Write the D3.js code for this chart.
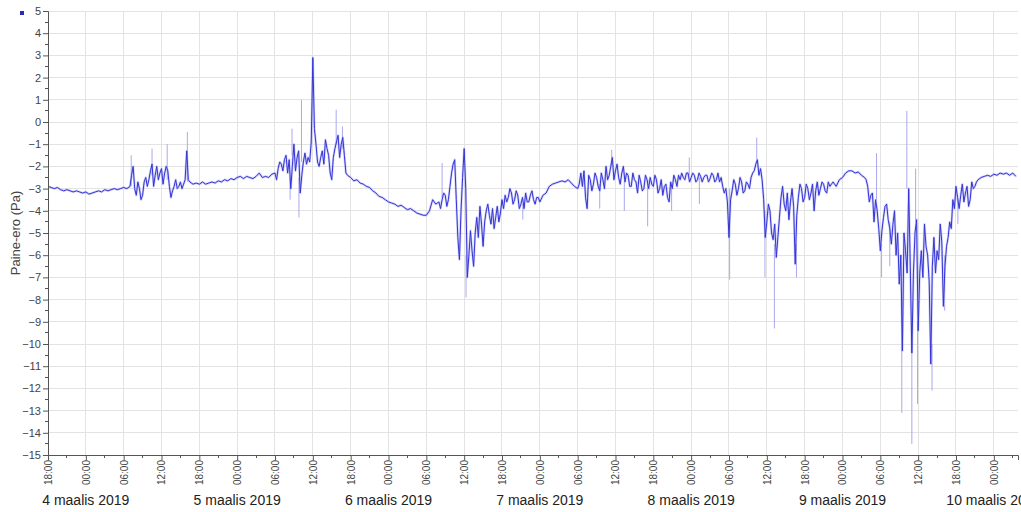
<!DOCTYPE html>
<html>
<head>
<meta charset="utf-8">
<script src="https://cdn.jsdelivr.net/npm/d3@7"></script>
<style>
  html, body { margin: 0; padding: 0; background: #fff; }
  svg { display: block; font-family: "Liberation Sans", Arial, sans-serif; }
</style>
</head>
<body>
<svg id="chart" width="1021" height="512"></svg>
<script>
// ---------------- DATA ----------------
const seriesName = "Paine-ero (Pa)";
const sampleStart = new Date(2019, 2, 3, 18, 0);   // 3 March 2019 18:00
const sampleStepMinutes = 30;
const values = [
  -2.9, -2.95, -3.0, -2.95, -3.05, -3.1, -3.05, -3.1, -3.15, -3.1,
  -3.15, -3.2, -3.15, -3.25, -3.2, -3.15, -3.1, -3.15, -3.05, -3.1,
  -3.05, -3.0, -3.05, -3.0, -2.95, -3.0, -2.9, -2.0, -3.3, -3.0,
  -3.3, -2.5, -2.6, -1.9, -2.4, -2.6, -2.1, -2.3, -2.2, -3.4,
  -2.9, -3.0, -2.7, -2.8, -1.3, -2.7, -2.8, -2.75, -2.8, -2.7,
  -2.8, -2.75, -2.7, -2.75, -2.65, -2.7, -2.6, -2.65, -2.55, -2.6,
  -2.5, -2.45, -2.55, -2.45, -2.5, -2.55, -2.45, -2.3, -2.5, -2.45,
  -2.5, -2.35, -2.3, -2.1, -1.9, -1.7, -2.3, -3.0, -1.0, -1.6,
  -3.2, -1.8, -1.9, -1.8, 2.9, -1.0, -2.0, -1.3, -0.8, -1.5,
  -2.6, -1.2, -0.6, -1.0, -1.5, -2.4, -2.5, -2.65, -2.6, -2.75,
  -2.8, -2.9, -2.95, -3.1, -3.2, -3.35, -3.4, -3.5, -3.6, -3.65,
  -3.7, -3.8, -3.75, -3.85, -3.95, -3.9, -4.0, -4.1, -4.15, -4.2,
  -4.2, -4.0, -3.5, -3.7, -3.6, -3.5, -3.3, -3.5, -2.3, -1.7,
  -5.2, -4.0, -1.2, -7.0, -4.9, -6.5, -4.3, -3.8, -5.6, -4.0,
  -4.2, -3.9, -4.3, -4.5, -3.5, -3.3, -3.4, -3.2, -3.5, -3.3,
  -3.7, -3.9, -3.6, -3.3, -3.5, -3.4, -3.6, -3.3, -3.2, -2.9,
  -2.8, -2.75, -2.7, -2.65, -2.7, -2.6, -2.75, -2.9, -3.0, -2.3,
  -2.2, -3.9, -2.6, -2.8, -2.5, -3.1, -2.6, -2.0, -2.4, -1.6,
  -2.2, -2.5, -2.3, -2.7, -2.4, -2.9, -2.6, -3.2, -2.7, -3.0,
  -2.6, -2.5, -2.9, -2.6, -3.0, -3.3, -2.8, -3.6, -3.0, -2.6,
  -2.4, -2.3, -2.6, -2.3, -2.5, -2.4, -2.6, -2.45, -2.5, -2.4,
  -2.55, -2.4, -2.6, -2.7, -2.9, -3.0, -5.2, -3.1, -2.8, -3.0,
  -2.7, -3.1, -2.8, -2.5, -2.2, -1.7, -2.1, -3.5, -4.5, -4.0,
  -5.3, -6.1, -4.3, -2.9, -4.0, -4.4, -3.0, -6.4, -3.4, -3.0,
  -3.4, -3.0, -3.2, -4.0, -2.7, -3.0, -2.8, -3.2, -2.9, -2.7,
  -2.9, -2.6, -2.5, -2.3, -2.2, -2.2, -2.3, -2.25, -2.4, -2.5,
  -2.9, -3.3, -4.5, -4.0, -5.8, -4.3, -3.7, -4.8, -4.6, -6.0,
  -7.3, -10.3, -5.8, -3.0, -10.4, -5.0, -9.4, -5.8, -4.6, -6.0,
  -10.9, -5.2, -5.8, -4.6, -8.3, -5.6, -4.5, -3.5, -2.9, -3.9,
  -2.8, -3.2, -3.8, -2.7, -2.9, -2.6, -2.5, -2.45, -2.4, -2.45,
  -2.35, -2.4, -2.3, -2.35, -2.3, -2.4, -2.3, -2.45
];
// extra in-between readings in the turbulent periods: [hours after sampleStart, value]
const detailA = [[13.25,-2.4],[13.75,-3.0],[14.25,-2.7],[14.75,-3.5],[15.25,-2.7],[15.75,-2.9],[16.25,-2.2],[16.75,-2.9],[17.25,-2.0],[17.75,-2.3],[18.25,-2.8],[18.75,-2.0],[19.25,-2.9],[19.75,-3.1],[20.25,-2.6],[20.75,-2.9],[21.25,-3.0],[21.75,-2.6],[22.25,-2.6]];
const detailB = [[36.25,-2.6],[36.75,-1.8],[37.25,-2.2],[37.75,-1.5],[38.25,-1.7],[38.75,-2.0],[39.25,-2.2],[39.75,-1.3],[40.25,-2.4],[40.75,-1.4],[41.25,-1.6],[41.75,-0.9],[42.25,-0.3],[42.75,-1.8],[43.25,-1.6],[43.75,-1.9],[44.25,-1.2],[44.75,-2.3],[45.25,-1.6],[45.75,-0.9],[46.25,-1.6],[46.75,-0.7],[47.25,-2.3]];
const detailC = [[62.25,-3.9],[62.75,-3.2],[63.25,-3.8],[63.75,-2.9],[64.25,-1.9],[64.75,-3.5],[65.25,-6.2],[65.75,-2.5],[66.25,-3.0],[66.75,-6.0],[67.25,-5.8],[67.75,-5.0],[68.25,-5.2],[68.75,-4.6],[69.25,-4.5],[69.75,-3.7],[70.25,-4.6],[70.75,-4.8],[71.25,-3.8],[71.75,-4.1],[72.25,-3.9],[72.75,-3.6],[73.25,-3.0],[73.75,-3.7],[74.25,-3.1],[74.75,-3.9],[75.25,-3.4],[75.75,-3.2],[76.25,-3.6],[76.75,-3.1],[77.25,-3.7],[77.75,-3.4]];
const detailD = [[84.25,-2.8],[84.75,-2.9],[85.25,-3.4],[85.75,-2.4],[86.25,-3.1],[86.75,-2.3],[87.25,-2.9],[87.75,-2.3],[88.25,-3.0],[88.75,-2.6],[89.25,-2.0],[89.75,-2.6],[90.25,-1.9],[90.75,-2.8],[91.25,-2.0],[91.75,-2.3],[92.25,-2.9],[92.75,-2.3],[93.25,-2.7],[93.75,-2.4],[94.25,-3.1],[94.75,-2.4],[95.25,-3.0],[95.75,-2.8],[96.25,-2.4],[96.75,-3.2],[97.25,-2.6],[97.75,-2.9],[98.25,-3.4],[98.75,-2.7],[99.25,-2.4],[99.75,-2.9],[100.25,-2.6],[100.75,-2.5],[101.25,-2.3],[101.75,-2.7],[102.25,-2.3],[102.75,-2.7],[103.25,-2.3],[103.75,-2.7],[104.25,-2.4],[104.75,-2.7],[105.25,-2.3],[105.75,-2.7]];
const detailE = [[106.25,-2.3],[106.75,-2.5],[107.25,-3.2],[107.75,-3.6],[108.25,-3.5],[108.75,-2.6],[109.25,-3.3],[109.75,-2.5],[110.25,-3.2],[110.75,-2.7],[111.25,-3.0],[111.75,-2.3],[112.25,-1.9],[112.75,-2.4],[113.25,-2.6],[113.75,-5.2],[114.25,-3.7],[114.75,-5.0],[115.25,-4.6],[115.75,-5.2],[116.25,-3.4],[116.75,-3.7],[117.25,-3.2],[117.75,-3.6],[118.25,-3.8],[118.75,-4.2],[119.25,-2.8],[119.75,-3.6],[120.25,-2.8],[120.75,-3.5],[121.25,-2.8],[121.75,-3.1],[122.25,-3.3],[122.75,-2.7],[123.25,-3.1],[123.75,-2.7]];
const detailF = [[129.75,-2.6],[130.25,-3.6],[130.75,-3.2],[131.25,-3.5],[131.75,-4.8],[132.25,-4.9],[132.75,-3.8],[133.25,-4.4],[133.75,-5.5],[134.25,-4.0],[134.75,-5.0],[135.25,-6.0],[135.75,-5.0],[136.25,-6.8],[136.75,-6.5],[137.25,-6.8],[137.75,-4.4],[138.25,-6.8],[138.75,-7.0],[139.25,-5.6],[139.75,-7.2],[140.25,-6.5],[140.75,-6.8],[141.25,-6.2],[141.75,-5.4],[142.25,-6.5],[142.75,-5.2],[143.25,-4.8],[143.75,-3.9],[144.25,-3.4],[144.75,-3.3],[145.25,-3.6],[145.75,-2.9],[146.25,-3.5],[146.75,-3.0],[147.25,-2.7]];
// short single-sample spikes: [hours after sampleStart, from value, to value]
const spikes = [
  [13.2, -2.9, -1.5], [16.5, -2.4, -1.2], [18.9, -2.6, -1.0], [22.1, -2.7, -0.45],
  [38.4, -2.5, -3.5], [38.7, -1.5, -0.3], [39.8, -2.5, -4.3], [40.2, -1.8, 1.0],
  [45.7, -1.0, 0.55], [46.7, -1.2, -0.2],
  [62.5, -3.4, -1.85], [66.3, -6.0, -7.9], [75.3, -3.7, -4.4],
  [87.5, -2.8, -3.9], [89.4, -2.0, -1.25], [91.4, -2.7, -4.0], [95.1, -2.6, -4.7],
  [98.9, -3.0, -4.0], [101.7, -2.4, -1.6], [103.3, -2.5, -3.7],
  [108.1, -3.0, -7.1], [112.4, -1.7, -0.7], [113.7, -4.0, -7.0], [115.2, -5.5, -9.3],
  [118.7, -5.5, -7.0], [131.4, -3.5, -1.4], [132.2, -5.5, -7.0], [133.5, -4.5, -6.5],
  [135.4, -8.0, -13.1], [136.2, -3.0, 0.5], [137.0, -9.0, -14.5], [137.6, -4.5, -2.1],
  [137.9, -9.0, -12.7], [140.2, -10.0, -12.1], [142.2, -6.0, -8.5], [144.3, -3.5, -4.6]
];
const yTickValues = [5, 4, 3, 2, 1, 0, -1, -2, -3, -4, -5, -6, -7, -8, -9, -10, -11, -12, -13, -14, -15];
const monthName = "maalis";
const yearLabel = "2019";
const xDomain = [new Date(2019, 2, 3, 18, 0), new Date(2019, 2, 10, 3, 50)];

// ---------------- CHART ----------------
const svg = d3.select("#chart");
const margin = { left: 48, right: 3, top: 11, bottom: 57 };
const W = 1021, H = 512;

const x = d3.scaleTime().domain(xDomain).range([margin.left, W - margin.right]);
const y = d3.scaleLinear().domain([-15, 5]).range([H - margin.bottom, margin.top]);

const hoursToDate = h => new Date(sampleStart.getTime() + h * 3600000);
const data = values.map((v, i) => ({ t: new Date(sampleStart.getTime() + i * sampleStepMinutes * 60000), v }))
  .concat([...detailA, ...detailB, ...detailC, ...detailD, ...detailE, ...detailF].map(d => ({ t: hoursToDate(d[0]), v: d[1] })))
  .sort((a, b) => a.t - b.t);

// grid
const gridColor = "#e3e3e3";
svg.append("g").selectAll("line").data(yTickValues).join("line")
  .attr("x1", margin.left).attr("x2", W - margin.right)
  .attr("y1", d => y(d)).attr("y2", d => y(d))
  .attr("stroke", gridColor).attr("stroke-width", 1).attr("shape-rendering", "crispEdges");
const majorTimes = d3.timeHour.every(6).range(xDomain[0], new Date(xDomain[1].getTime() + 1));
svg.append("g").selectAll("line").data(majorTimes).join("line")
  .attr("x1", d => x(d)).attr("x2", d => x(d))
  .attr("y1", margin.top).attr("y2", H - margin.bottom)
  .attr("stroke", gridColor).attr("stroke-width", 1).attr("shape-rendering", "crispEdges");

// clip
svg.append("clipPath").attr("id", "clip").append("rect")
  .attr("x", margin.left).attr("y", margin.top)
  .attr("width", W - margin.right - margin.left).attr("height", H - margin.bottom - margin.top);

const plot = svg.append("g").attr("clip-path", "url(#clip)");

// spikes
plot.append("g").selectAll("line").data(spikes).join("line")
  .attr("x1", d => x(hoursToDate(d[0])))
  .attr("x2", d => x(hoursToDate(d[0])))
  .attr("y1", d => y(d[1])).attr("y2", d => y(d[2]))
  .attr("stroke", "#a9a9ee").attr("stroke-width", 1);

// main line (soft halo + core)
const line = d3.line().x(d => x(d.t)).y(d => y(d.v));
plot.append("path").datum(data).attr("d", line)
  .attr("fill", "none").attr("stroke", "#9c9cf0").attr("stroke-width", 2.4).attr("stroke-opacity", 0.45)
  .attr("stroke-linejoin", "round");
plot.append("path").datum(data).attr("d", line)
  .attr("fill", "none").attr("stroke", "#3434d6").attr("stroke-width", 1)
  .attr("stroke-linejoin", "round");

// y axis
const yAxis = d3.axisLeft(y).tickValues(yTickValues).tickSize(5).tickPadding(2).tickFormat(d3.format("d"));
const gy = svg.append("g").attr("transform", `translate(${margin.left},0)`).call(yAxis);
gy.select(".domain").attr("stroke", "#555");
gy.selectAll(".tick line").attr("stroke", "#555");
gy.selectAll(".tick text").attr("fill", "#444").style("font-size", "11px");
// y minor ticks
const yMinor = d3.range(-14.5, 5, 1);
svg.append("g").selectAll("line").data(yMinor).join("line")
  .attr("x1", margin.left - 3).attr("x2", margin.left)
  .attr("y1", d => y(d)).attr("y2", d => y(d))
  .attr("stroke", "#555").attr("shape-rendering", "crispEdges");

// x axis
const xAxis = d3.axisBottom(x).tickValues(majorTimes).tickSize(5).tickFormat(d3.timeFormat("%H:%M"));
const gx = svg.append("g").attr("transform", `translate(0,${H - margin.bottom})`).call(xAxis);
gx.select(".domain").attr("stroke", "#555");
gx.selectAll(".tick line").attr("stroke", "#555");
gx.selectAll(".tick text")
  .attr("fill", "#444").style("font-size", "10px")
  .attr("text-anchor", "end")
  .attr("transform", "rotate(-90)")
  .attr("x", -5).attr("y", 0).attr("dy", "0.35em");
const minorTimes = d3.timeHour.every(3).range(xDomain[0], xDomain[1]).filter(d => d.getHours() % 6 !== 0);
svg.append("g").selectAll("line").data(minorTimes).join("line")
  .attr("x1", d => x(d)).attr("x2", d => x(d))
  .attr("y1", H - margin.bottom).attr("y2", H - margin.bottom + 3)
  .attr("stroke", "#555").attr("shape-rendering", "crispEdges");

// day labels (the last one runs off the right edge, as in the original)
const days = d3.timeDay.range(xDomain[0], xDomain[1]);
svg.append("g").selectAll("text").data(days).join("text")
  .attr("x", d => x(d)).attr("y", 505)
  .attr("text-anchor", "middle")
  .attr("fill", "#222").style("font-size", "14px")
  .text(d => `${d.getDate()} ${monthName} ${yearLabel}`);

// y axis title
svg.append("text")
  .attr("transform", `translate(20,${(margin.top + H - margin.bottom) / 2}) rotate(-90)`)
  .attr("text-anchor", "middle").attr("fill", "#444").style("font-size", "13px")
  .text(seriesName);

// legend marker
svg.append("rect").attr("x", 20).attr("y", 11).attr("width", 4).attr("height", 4).attr("fill", "#2a2ab8");
</script>
</body>
</html>
